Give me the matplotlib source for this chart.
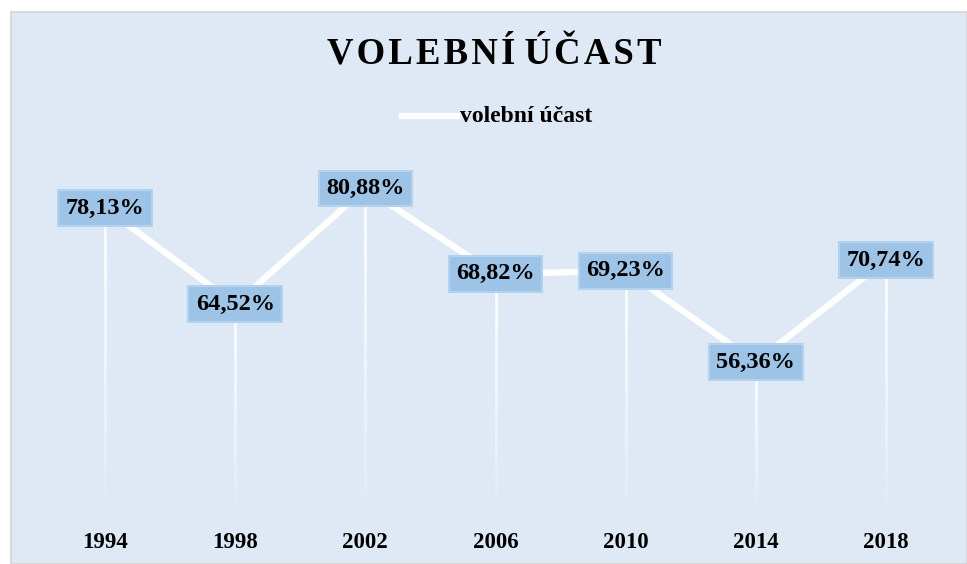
import matplotlib
matplotlib.use("Agg")
import matplotlib.pyplot as plt
from matplotlib.patches import Rectangle
from matplotlib.lines import Line2D

years = ["1994", "1998", "2002", "2006", "2010", "2014", "2018"]
turnout = [78.13, 64.52, 80.88, 68.82, 69.23, 56.36, 70.74]
labels = ["78,13%", "64,52%", "80,88%", "68,82%", "69,23%", "56,36%", "70,74%"]
title = "VOLEBNÍ ÚČAST"
series_name = "volební účast"

W, H = 967, 564
fig = plt.figure(figsize=(W / 100, H / 100), dpi=100)
fig.patch.set_facecolor("white")
bg = "#DEE9F5"
fig.patches.append(Rectangle((11 / W, 0), 1 - 11 / W, (H - 12) / H, transform=fig.transFigure,
                             facecolor=bg, edgecolor="#D4D4D4", linewidth=1.2, zorder=-5))

ax = fig.add_axes([40 / W, (H - 508) / H, 911 / W, 358 / H])
ax.set_facecolor("none")
ax.set_zorder(2)
ax.set_xlim(-0.5, len(years) - 0.5)
ax.set_ylim(35.73, 86.32)
for s in ax.spines.values():
    s.set_visible(False)
ax.set_yticks([])
ax.set_xticks(range(len(years)))
ax.set_xticklabels(years, fontfamily="Liberation Serif", fontweight="bold", fontsize=16.5)
ax.tick_params(axis="x", length=0, pad=17)

x = list(range(len(years)))
# fading drop lines
ymin = ax.get_ylim()[0]
N = 30
for xi, v in zip(x, turnout):
    step = (v - ymin) / N
    for k in range(N):
        a = 0.95 * (1 - k / N) ** 0.8
        ax.plot([xi, xi], [v - k * step, v - (k + 1) * step], color="white",
                alpha=a, lw=2, solid_capstyle="butt", zorder=1)

ax.plot(x, turnout, color="white", lw=4.5, zorder=2, solid_capstyle="round")

for xi, v, lab in zip(x, turnout, labels):
    ax.text(xi, v, lab, ha="center", va="center", fontfamily="Liberation Serif",
            fontweight="bold", fontsize=17.5, color="black", zorder=4,
            bbox=dict(boxstyle="square,pad=0.3", facecolor="#9DC3E6",
                      edgecolor="#B4D2EE", linewidth=1.5))

spaced = " ".join("\u200a".join(w) for w in title.split(" "))
fig.text(494 / W, (H - 55) / H, spaced,
         ha="center", va="center", fontfamily="Liberation Serif", fontweight="bold",
         fontsize=26.5, color="black")

leg_y = (H - 116) / H
fig.add_artist(Line2D([402 / W, 457 / W], [leg_y, leg_y], color="white", lw=4.5,
                      transform=fig.transFigure))
fig.text(460 / W, (H - 117) / H, series_name, ha="left", va="center", fontfamily="Liberation Serif",
         fontweight="bold", fontsize=17, color="black")

fig.savefig("out.png", dpi=100, facecolor=fig.get_facecolor())
